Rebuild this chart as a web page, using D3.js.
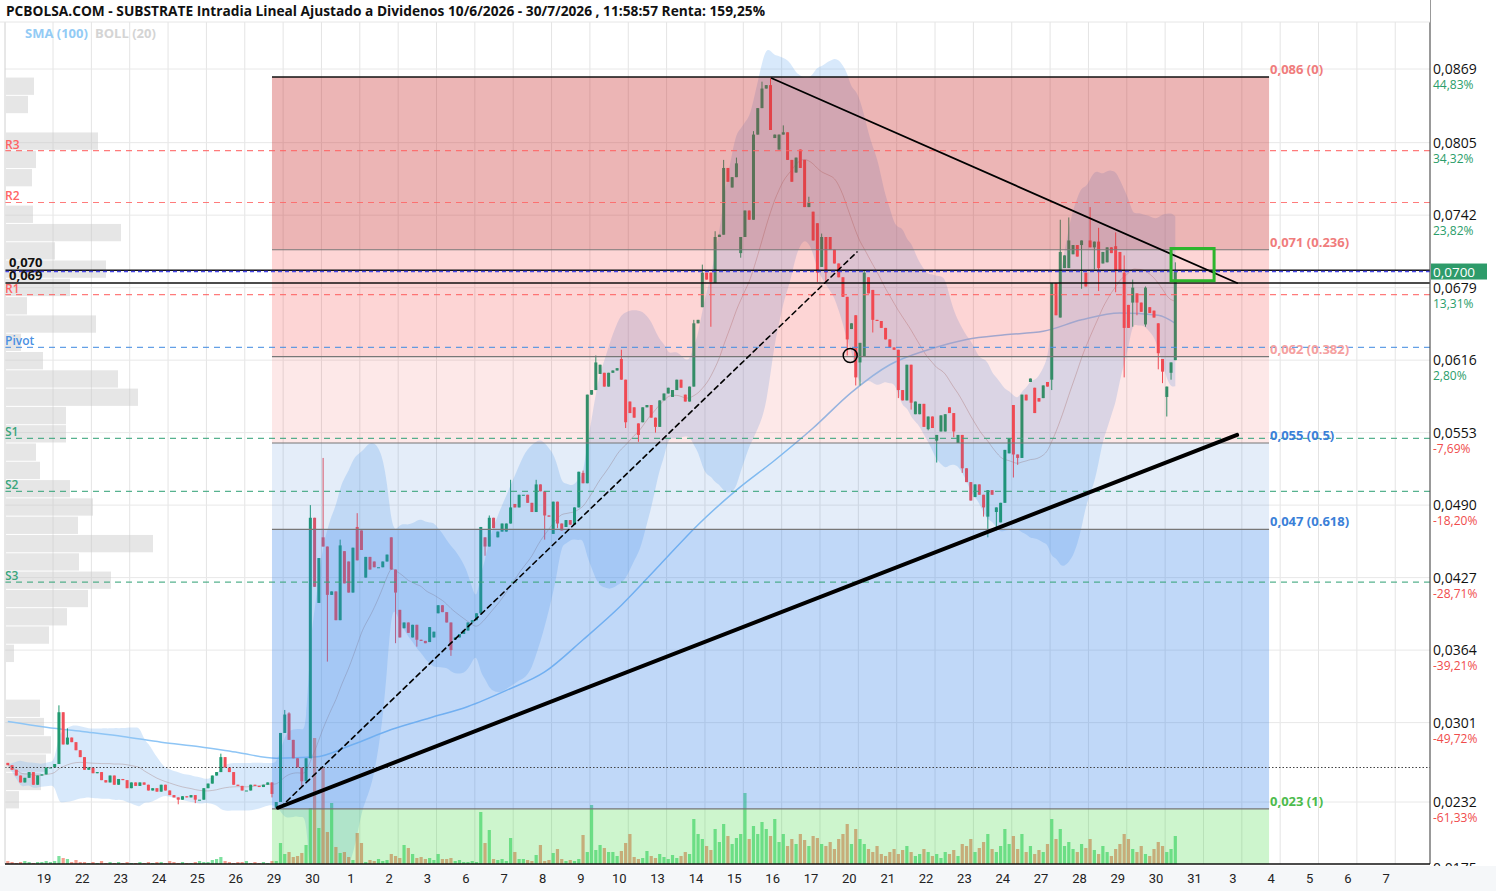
<!DOCTYPE html>
<html><head><meta charset="utf-8">
<script src="https://cdn.jsdelivr.net/npm/d3@7"></script>
<style>html,body{margin:0;padding:0;background:#fff;overflow:hidden}svg{display:block}</style>
</head><body>
<svg id="c" width="1496" height="891"></svg>
<script>
const title = "PCBOLSA.COM - SUBSTRATE Intradia Lineal Ajustado a Dividenos 10/6/2026 - 30/7/2026 , 11:58:57 Renta: 159,25%";
const dayLabels = ["18","19","22","23","24","25","26","29","30","1","2","3","6","7","8","9","10","13","14","15","16","17","20","21","22","23","24","27","28","29","30","31","3","4","5","6","7"];
const closes = [
.0264,.0260,.0255,.0249,.0253,.0258,.0247,.0255,.0256,
.0262,.0262,.0265,.0310,.0282,.0288,.0284,.0277,.0271,
.0260,.0262,.0257,.0258,.0251,.0249,.0255,.0247,.0252,
.0251,.0244,.0249,.0246,.0249,.0247,.0242,.0244,.0241,
.0247,.0242,.0238,.0236,.0234,.0237,.0236,.0238,.0234,
.0234,.0244,.0248,.0255,.0258,.0271,.0262,.0258,.0247,
.0246,.0242,.0242,.0247,.0246,.0245,.0247,.0249,.0239,
.0232,.0292,.0308,.0286,.0270,.0262,.0250,.0270,.0479,
.0419,.0444,.0454,.0412,.0415,.0390,.0455,.0422,.0414,
.0453,.0442,.0451,.0445,.0434,.0436,.0436,.0441,.0447,
.0434,.0414,.0375,.0388,.0379,.0386,.0373,.0372,.0370,
.0384,.0380,.0403,.0397,.0388,.0364,.0375,.0378,.0381,
.0388,.0390,.0396,.0471,.0454,.0479,.0470,.0467,.0474,
.0474,.0488,.0488,.0499,.0499,.0492,.0484,.0508,.0502,
.0481,.0480,.0493,.0474,.0468,.0477,.0473,.0488,.0519,
.0509,.0586,.0590,.0614,.0612,.0593,.0605,.0607,.0609,
.0599,.0562,.0570,.0566,.0551,.0575,.0577,.0566,.0558,
.0581,.0587,.0592,.0590,.0599,.0592,.0580,.0593,.0648,
.0651,.0692,.0686,.0684,.0723,.0725,.0783,.0771,.0775,
.0787,.0723,.0746,.0738,.0812,.0835,.0852,.0855,.0816,
.0812,.0812,.0814,.0790,.0771,.0792,.0783,.0749,.0753,
.0720,.0692,.0723,.0692,.0712,.0700,.0688,.0671,.0634,
.0648,.0601,.0631,.0692,.0674,.0651,.0650,.0644,.0634,
.0627,.0625,.0590,.0581,.0612,.0579,.0580,.0578,.0558,
.0567,.0557,.0551,.0568,.0569,.0570,.0554,.0551,.0522,
.0510,.0494,.0508,.0499,.0488,.0503,.0499,.0488,.0492,
.0538,.0548,.0534,.0531,.0586,.0581,.0600,.0570,.0580,
.0594,.0593,.0683,.0655,.0710,.0707,.0720,.0716,.0706,
.0720,.0680,.0714,.0719,.0696,.0710,.0714,.0709,.0694,
.0693,.0644,.0644,.0679,.0666,.0658,.0679,.0657,.0653,
.0622,.0606,.0593,.0614,.0693];
const openGaps = [[0,.0266],[63,.0227],[66,.0309],[73,.0405],[74,.0462],[79,.0450],[80,.0441],[82,.0471],[83,.0468],[84,.0427],[86,.0441],[90,.0462],[92,.0399],[93,.0383],[95,.0375],[99,.0371],[100,.0375],[101,.0396],[105,.0373],[112,.0462],[115,.0462],[117,.0467],[119,.0491],[128,.0465],[131,.0471],[135,.0518],[139,.0604],[140,.0605],[144,.0617],[146,.0580],[147,.0575],[148,.0561],[149,.0562],[156,.0584],[159,.0586],[163,.0662],[165,.0692],[166,.0683],[170,.0766],[172,.0709],[180,.0809],[181,.0799],[185,.0779],[186,.0799],[187,.0790],[189,.0745],[190,.0735],[191,.0697],[193,.0723],[198,.0643],[199,.0655],[200,.0614],[201,.0619],[202,.0688],[203,.0677],[213,.0569],[214,.0569],[216,.0556],[218,.0546],[219,.0554],[220,.0554],[221,.0575],[223,.0544],[227,.0497],[230,.0480],[232,.0484],[233,.0475],[235,.0535],[236,.0577],[240,.0597],[241,.0592],[242,.0583],[243,.0583],[244,.0597],[245,.0599],[247,.0653],[248,.0696],[249,.0696],[250,.0708],[252,.0716],[253,.0692],[254,.0720],[255,.0714],[257,.0700],[258,.0701],[260,.0715],[261,.0710],[262,.0692],[263,.0664],[264,.0666],[265,.0674],[266,.0666],[267,.0647],[268,.0662],[269,.0659],[270,.0648],[271,.0617],[272,.0584],[273,.0605],[274,.0616]];
const highWicks = [[12,.0316],[14,.0296],[50,.0274],[65,.0312],[66,.0310],[71,.0490],[74,.0531],[78,.0460],[82,.0483],[113,.0481],[118,.0512],[124,.0512],[135,.0520],[138,.0620],[144,.0625],[161,.0651],[163,.0699],[166,.0728],[168,.0790],[171,.0792],[175,.0815],[177,.0858],[179,.0861],[182,.0820],[188,.0758],[191,.0726],[201,.0694],[247,.0738],[249,.0740],[254,.0749],[256,.0731],[260,.0727],[262,.0707],[264,.0686],[267,.0680],[274,.0701]];
const lowWicks = [[40,.0230],[44,.0231],[62,.0236],[63,.0226],[69,.0245],[75,.0354],[91,.0370],[96,.0367],[104,.0359],[112,.0446],[126,.0460],[129,.0470],[145,.0557],[148,.0545],[152,.0553],[165,.0645],[172,.0705],[190,.0684],[192,.0684],[197,.0620],[199,.0594],[200,.0594],[203,.0640],[209,.0583],[212,.0573],[216,.0555],[218,.0527],[222,.0549],[224,.0518],[229,.0480],[230,.0462],[232,.0468],[233,.0483],[236,.0514],[237,.0525],[245,.0590],[252,.0678],[255,.0695],[256,.0676],[260,.0675],[262,.0601],[264,.0645],[265,.0655],[267,.0645],[270,.0608],[271,.0596],[272,.0567],[273,.0599]];
const volumes = [
3,2,1,2,3,2,1,2,2, 3,2,3,8,6,5,2,4,2, 2,1,2,1,3,1,2,1,2, 1,2,1,1,2,1,2,1,2, 2,1,3,2,1,2,1,1,2, 3,2,2,4,5,7,3,2,1, 2,2,3,1,2,1,2,1,3,
3,21,10,12,7,8,11,19,56,126,36,96,32,61,17,11,12,7,4,31,21,2,4,3,5,3,4,10,8,6,19,16,10,6,7,5,6,4,10,5,5,6,3,4,2,2,3,2,52,21,34,5,4,5,3,26,12,5,5,4,3,9,19,3,4,11,15,5,3,4,3,5,29,12,59,14,19,16,12,12,8,13,21,30,7,5,6,
13,8,6,10,7,5,9,6,8,12,10,
45,30,25,18,14,35,22,40,28,20,
26,30,71,25,38,30,42,35,28,45,
22,30,18,25,20,30,24,18,28,26,
20,18,22,15,25,30,40,20,35,25,
20,15,12,18,10,8,12,15,10,14,
18,12,8,10,15,12,8,10,6,12,
10,14,8,20,18,25,12,16,22,30,
15,12,18,35,20,28,15,30,12,18,
10,14,12,20,45,25,35,18,22,15,
12,20,16,25,14,10,18,12,8,15,
20,30,25,15,12,18,10,8,15,22,
18,12,15,28];
const smaIdx = [0,9,18,27,36,45,54,63,72,81,90,99,108,117,126,135,144,153,162,171,180,189,198,207,216,225,234,243,252,261,270,274];
const smaVals = [.0302,.0297,.0293,.0289,.0284,.0280,.0275,.0270,.0271,.0282,.0295,.0305,.0315,.0329,.0345,.0373,.0403,.0438,.0473,.0503,.0529,.0557,.0588,.0612,.0625,.0634,.0638,.0641,.0651,.0657,.0655,.0648];
const yTicks = [.0869,.0805,.0742,.0679,.0616,.0553,.0490,.0427,.0364,.0301,.0232,.0175];
const yTickLabels = ["0,0869","0,0805","0,0742","0,0679","0,0616","0,0553","0,0490","0,0427","0,0364","0,0301","0,0232","0,0175"];
const yTickPct = ["44,83%","34,32%","23,82%","13,31%","2,80%","-7,69%","-18,20%","-28,71%","-39,21%","-49,72%","-61,33%",""];
const pivotNames = ["R3","R2","R1","Pivot","S1","S2","S3"];
const pivotValues = [.0798,.0753,.0673,.0627,.0548,.0502,.0423];
const fibRatios = [0,0.236,0.382,0.5,0.618,1];
const fibLabels = ["0,086 (0)","0,071 (0.236)","0,062 (0.382)","0,055 (0.5)","0,047 (0.618)","0,023 (1)"];
const fibHigh = .0862, fibLow = .0226, fibStart = 62, fibEnd = 296;
const profileTop = .0862, profileBottom = .0226;
const profileVols = [28,22,0,92,30,26,0,27,115,49,100,64,21,90,15,37,112,132,60,60,30,34,64,87,72,147,73,105,82,61,43,8,0,0,34,38,45,40,35,13];
const markLines = [[.0694,"0,070"],[.0683,"0,069"]];
const refDotted = .0262;
const trendThick = [[63.4,.0227],[288.5,.0551]];
const trendDashed = [[63.9,.0227],[199.3,.0710]];
const trendThin = [[179.3,.0861],[288.5,.0683]];
const circleMark = [197.7,.0620];
const boxMark = [[273,.0713],[283.1,.0685]];
const lastPriceLabel = "0,0700";

const svg = d3.select("#c");
const P = {l:5, r:1430, t:22, b:864};
const x = d3.scaleLinear().domain([0,274]).range([7.8, 7.8 + 4.261*274]);
const y = d3.scaleLinear().domain([.0869,.0232]).range([69,802]);
const vY = d3.scaleLinear().domain([0,130]).range([P.b, P.b-130]);
const dayX = k => x(9*k - 0.5);
const FONT = "Open Sans, sans-serif";

svg.append("defs").append("clipPath").attr("id","clip").append("rect")
  .attr("x",P.l).attr("y",P.t).attr("width",P.r-P.l).attr("height",P.b-P.t);
const g = svg.append("g").attr("clip-path","url(#clip)");

// grid
dayLabels.forEach((d,k)=>{ if(k===0) return;
  g.append("line").attr("x1",dayX(k)+9).attr("x2",dayX(k)+9).attr("y1",P.t).attr("y2",P.b).attr("stroke","#e4e4e4").attr("stroke-width",1);
});
yTicks.forEach(t=>{
  g.append("line").attr("x1",P.l).attr("x2",P.r).attr("y1",y(t)).attr("y2",y(t)).attr("stroke","#e8e8e8");
});

// volume profile
const pStep = (profileTop-profileBottom)/profileVols.length;
const pw = d3.scaleLinear().domain([0,147]).range([0,147]);
g.selectAll("rect.vp").data(profileVols).join("rect").attr("class","vp")
  .attr("x",P.l+1).attr("y",(v,i)=>y(profileTop - i*pStep)+0.5)
  .attr("width",v=>pw(v)).attr("height",(v,i)=>y(profileTop-(i+1)*pStep)-y(profileTop-i*pStep)-1)
  .attr("fill","rgba(200,200,200,0.45)");

// candles data
const openMap = new Map(openGaps), hiMap = new Map(highWicks), loMap = new Map(lowWicks);
const candles = closes.map((c,i)=>{
  const o = openMap.has(i) ? openMap.get(i) : (i ? closes[i-1] : c);
  const h = Math.max(o,c, hiMap.has(i)?hiMap.get(i):0);
  const l = Math.min(o,c, loMap.has(i)?loMap.get(i):1);
  return {i,o,h,l,c,v:volumes[i]};
});

// Bollinger (20, 2) from closes
const boll = closes.map((c,i)=>{
  const w = closes.slice(Math.max(0,i-19), i+1);
  const m = d3.mean(w); const sd = Math.sqrt(d3.mean(w.map(v=>(v-m)*(v-m))));
  return {i, m, u:m+2*sd, l:m-2*sd};
});
g.append("path").datum(boll)
  .attr("d", d3.area().x(d=>x(d.i)).y0(d=>y(d.l)).y1(d=>y(d.u)).curve(d3.curveBasis))
  .attr("fill","rgba(110,175,240,0.27)");
g.append("path").datum(boll)
  .attr("d", d3.line().x(d=>x(d.i)).y(d=>y(d.m)).curve(d3.curveBasis))
  .attr("fill","none").attr("stroke","rgba(170,140,140,0.45)").attr("stroke-width",1);

// SMA 100
g.append("path").datum(smaIdx.map((k,j)=>[k,smaVals[j]]))
  .attr("d", d3.line().x(d=>x(d[0])).y(d=>y(d[1])).curve(d3.curveMonotoneX))
  .attr("fill","none").attr("stroke","#8ec5f5").attr("stroke-width",1.5);

// volumes
g.selectAll("rect.vol").data(candles).join("rect").attr("class","vol")
  .attr("x",d=>x(d.i)-1.6).attr("width",3.2)
  .attr("y",d=>vY(d.v)).attr("height",d=>P.b-vY(d.v))
  .attr("fill",d=>d.c>=d.o ? "rgba(40,205,95,0.6)" : "rgba(240,95,70,0.6)");

// candles
const cg = g.append("g");
cg.selectAll("line").data(candles).join("line")
  .attr("x1",d=>x(d.i)).attr("x2",d=>x(d.i)).attr("y1",d=>y(d.h)).attr("y2",d=>y(d.l))
  .attr("stroke",d=>d.c>=d.o?"#1f9a70":"#f0505a").attr("stroke-width",1);
cg.selectAll("rect").data(candles).join("rect")
  .attr("x",d=>x(d.i)-1.5).attr("width",3)
  .attr("y",d=>y(Math.max(d.o,d.c))).attr("height",d=>Math.max(1,Math.abs(y(d.o)-y(d.c))))
  .attr("fill",d=>d.c>=d.o?"#1f9a70":"#f0505a");

// fib zones overlay
const fibVal = r => fibHigh - r*(fibHigh-fibLow);
const zoneFill = ["rgba(201,44,44,0.35)","rgba(245,45,45,0.2)","rgba(235,25,25,0.1)","rgba(30,105,205,0.12)","rgba(45,125,232,0.3)"];
for(let j=0;j<fibRatios.length-1;j++){
  g.append("rect").attr("x",x(fibStart)).attr("width",x(fibEnd)-x(fibStart))
   .attr("y",y(fibVal(fibRatios[j]))).attr("height",y(fibVal(fibRatios[j+1]))-y(fibVal(fibRatios[j])))
   .attr("fill",zoneFill[j]);
}
g.append("rect").attr("x",x(fibStart)).attr("width",x(fibEnd)-x(fibStart))
  .attr("y",y(fibLow)).attr("height",P.b-y(fibLow)).attr("fill","rgba(55,215,55,0.25)");

// pivot lines
const pivColor = n => n[0]==="R" ? "#ff6464" : (n==="Pivot" ? "#4a90e2" : "#3aa57c");
pivotValues.forEach((v,j)=>{
  g.append("line").attr("x1",P.l).attr("x2",P.r).attr("y1",y(v)).attr("y2",y(v))
   .attr("stroke",pivColor(pivotNames[j])).attr("stroke-width",1.2).attr("stroke-dasharray","6,5").attr("opacity",0.85);
  svg.append("text").attr("x",5).attr("y",y(v)-2).text(pivotNames[j])
   .attr("font-family",FONT).attr("font-size",12).attr("font-weight",600)
   .attr("fill",pivColor(pivotNames[j]));
});

// fib lines and labels
const fibLabelColor = ["#f07c7c","#f07c7c","#f5a0a0","#3a80d8","#3a80d8","#4cbb4c"];
fibRatios.forEach((r,j)=>{
  g.append("line").attr("x1",x(fibStart)).attr("x2",x(fibEnd)).attr("y1",y(fibVal(r))).attr("y2",y(fibVal(r)))
   .attr("stroke", j===0?"#111":"#777").attr("stroke-width", j===0?1.5:1.2);
  svg.append("text").attr("x",x(fibEnd)+1).attr("y",y(fibVal(r))-3).text(fibLabels[j])
   .attr("font-family",FONT).attr("font-size",13).attr("font-weight",700)
   .attr("fill",fibLabelColor[j]);
});

// horizontal marks
markLines.forEach(([v,lab])=>{
  g.append("line").attr("x1",P.l).attr("x2",P.r).attr("y1",y(v)).attr("y2",y(v)).attr("stroke","#111").attr("stroke-width",1.5);
  svg.append("text").attr("x",9).attr("y",y(v)-3).text(lab)
   .attr("font-family",FONT).attr("font-size",13).attr("font-weight",700).attr("fill","#111");
});
const lastClose = closes[closes.length-1];
g.append("line").attr("x1",P.l).attr("x2",P.r).attr("y1",y(lastClose)).attr("y2",y(lastClose))
  .attr("stroke","#4848e8").attr("stroke-width",1.3).attr("stroke-dasharray","4,3");
g.append("line").attr("x1",P.l).attr("x2",P.r).attr("y1",y(refDotted)).attr("y2",y(refDotted))
  .attr("stroke","#444").attr("stroke-width",1.2).attr("stroke-dasharray","1.5,2");

// trend lines
const seg = (pts,w,dash)=>{ const l = g.append("line").attr("x1",x(pts[0][0])).attr("y1",y(pts[0][1])).attr("x2",x(pts[1][0])).attr("y2",y(pts[1][1]))
  .attr("stroke","#000").attr("stroke-width",w).attr("stroke-linecap","round"); if(dash) l.attr("stroke-dasharray",dash); };
seg(trendThick,4);
seg(trendDashed,1.6,"5,4");
seg(trendThin,1.8);
g.append("circle").attr("cx",x(circleMark[0])).attr("cy",y(circleMark[1])).attr("r",7)
  .attr("fill","none").attr("stroke","#000").attr("stroke-width",1.5);
g.append("rect").attr("x",x(boxMark[0][0])).attr("y",y(boxMark[0][1]))
  .attr("width",x(boxMark[1][0])-x(boxMark[0][0])).attr("height",y(boxMark[1][1])-y(boxMark[0][1]))
  .attr("fill","none").attr("stroke","#2db52d").attr("stroke-width",3);

// frame / axes
svg.append("line").attr("x1",P.l).attr("x2",P.l).attr("y1",P.t).attr("y2",P.b).attr("stroke","#d0d0d0");
svg.append("line").attr("x1",P.r).attr("x2",P.r).attr("y1",0).attr("y2",P.b).attr("stroke","#555").attr("stroke-width",1.2);
yTicks.forEach((t,j)=>{
  svg.append("text").attr("x",1433).attr("y",y(t)+5).text(yTickLabels[j])
   .attr("font-family",FONT).attr("font-size",14).attr("font-weight",500).attr("fill","#111");
  svg.append("text").attr("x",1433).attr("y",y(t)+20).text(yTickPct[j])
   .attr("font-family",FONT).attr("font-size",12).attr("font-weight",500)
   .attr("fill", yTickPct[j][0]==="-" ? "#f04b4b" : "#2a9d6a");
});
// last price box
svg.append("rect").attr("x",1431).attr("y",y(lastClose)-8).attr("width",56).attr("height",16).attr("fill","#2e9b6a");
svg.append("text").attr("x",1433).attr("y",y(lastClose)+5).text(lastPriceLabel)
  .attr("font-family",FONT).attr("font-size",13.5).attr("font-weight",500).attr("fill","#fff");

// x axis
svg.append("rect").attr("x",0).attr("y",866).attr("width",1496).attr("height",25).attr("fill","#f5f7f9");
svg.append("line").attr("x1",P.l).attr("x2",P.r).attr("y1",P.b).attr("y2",P.b).attr("stroke","#111").attr("stroke-width",1.5);
dayLabels.forEach((d,k)=>{ if(k===0) return;
  svg.append("text").attr("x",dayX(k)).attr("y",883).attr("text-anchor","middle").text(d)
   .attr("font-family","Liberation Sans Narrow, Roboto, sans-serif").attr("font-size",13).attr("fill","#222");
});

// title & legend
svg.append("rect").attr("x",0).attr("y",0).attr("width",P.r).attr("height",P.t).attr("fill","#fff");
svg.append("line").attr("x1",0).attr("x2",P.r).attr("y1",P.t).attr("y2",P.t).attr("stroke","#e6e6e6");
svg.append("text").attr("x",6).attr("y",16).text(title)
  .attr("font-family",FONT).attr("font-size",13.5).attr("font-weight",700).attr("fill","#111")
  .attr("textLength",759).attr("lengthAdjust","spacingAndGlyphs");
svg.append("text").attr("x",25).attr("y",38).text("SMA (100)")
  .attr("font-family",FONT).attr("font-size",13).attr("font-weight",700).attr("fill","#93cbf5");
svg.append("text").attr("x",95).attr("y",38).text("BOLL (20)")
  .attr("font-family",FONT).attr("font-size",13).attr("font-weight",700).attr("fill","#d4d4d4");
</script>
</body></html>
